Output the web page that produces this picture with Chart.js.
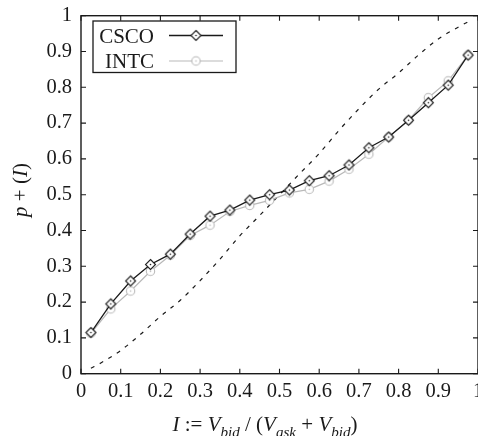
<!DOCTYPE html>
<html>
<head>
<meta charset="utf-8">
<script src="https://cdn.jsdelivr.net/npm/chart.js@4/dist/chart.umd.min.js"></script>
<style>
  html, body { margin: 0; padding: 0; background: #fff; overflow: hidden; }
  #wrap { position: relative; width: 478px; height: 436px; }
</style>
</head>
<body>
<div id="wrap"><canvas id="c" width="478" height="436"></canvas></div>
<script>
// Order-book imbalance bins (bin centres)
const imbalance = [0.025, 0.075, 0.125, 0.175, 0.225, 0.275, 0.325, 0.375, 0.425, 0.475,
                   0.525, 0.575, 0.625, 0.675, 0.725, 0.775, 0.825, 0.875, 0.925, 0.975];
// Probability of an upward move given imbalance
const csco = [0.115, 0.195, 0.259, 0.305, 0.334, 0.390, 0.440, 0.457, 0.485, 0.500,
              0.513, 0.539, 0.553, 0.583, 0.631, 0.661, 0.708, 0.757, 0.806, 0.890];
const intc = [0.113, 0.181, 0.231, 0.286, 0.331, 0.386, 0.415, 0.453, 0.470, 0.484,
              0.505, 0.515, 0.538, 0.571, 0.613, 0.661, 0.708, 0.771, 0.818, 0.890];
// Reference (model) curve
const modelX = [0.025, 0.05, 0.10, 0.15, 0.20, 0.25, 0.30, 0.35, 0.40, 0.45, 0.50,
                0.55, 0.60, 0.65, 0.70, 0.75, 0.80, 0.85, 0.90, 0.95, 0.975];
const modelY = [0.015, 0.030, 0.065, 0.110, 0.160, 0.205, 0.260, 0.320, 0.385, 0.442, 0.500,
                0.558, 0.615, 0.680, 0.740, 0.795, 0.840, 0.890, 0.935, 0.968, 0.983];
// Axis ticks
const xTicks = [0, 0.1, 0.2, 0.3, 0.4, 0.5, 0.6, 0.7, 0.8, 0.9, 1];
const xTickLabels = ['0', '0.1', '0.2', '0.3', '0.4', '0.5', '0.6', '0.7', '0.8', '0.9', '1'];
const yTicks = [0, 0.1, 0.2, 0.3, 0.4, 0.5, 0.6, 0.7, 0.8, 0.9, 1];
const yTickLabels = ['0', '0.1', '0.2', '0.3', '0.4', '0.5', '0.6', '0.7', '0.8', '0.9', '1'];
const seriesNames = ['CSCO', 'INTC'];

const SERIF = '"Liberation Serif", "Times New Roman", serif';
const INK = '#1a1a1a';
const GREY = '#b9b9b9';

function makeMarker(kind, stroke) {
  const s = 13, m = s / 2;
  const c = document.createElement('canvas');
  c.width = s; c.height = s;
  const g = c.getContext('2d');
  g.lineWidth = 1.1; g.strokeStyle = stroke; g.fillStyle = '#fff';
  g.beginPath();
  if (kind === 'diamond') {
    g.moveTo(m, m - 5); g.lineTo(m + 5, m); g.lineTo(m, m + 5); g.lineTo(m - 5, m); g.closePath();
  } else {
    g.arc(m, m, 4.2, 0, Math.PI * 2);
  }
  g.fill(); g.stroke();
  g.fillStyle = stroke;
  g.beginPath(); g.arc(m, m, 0.8, 0, Math.PI * 2); g.fill();
  return c;
}
const diamond = makeMarker('diamond', INK);
const ring = makeMarker('circle', GREY);

function richParts(ctx, parts, size) {
  let w = 0;
  const items = parts.map(p => {
    const fs = p.sub ? size * 0.72 : size;
    const font = (p.it ? 'italic ' : '') + fs + 'px ' + SERIF;
    ctx.font = font;
    const mw = ctx.measureText(p.t).width;
    w += mw;
    return { t: p.t, sub: p.sub, font, mw };
  });
  return { items, w };
}
function drawRich(ctx, parts, size, cx, baseline) {
  const { items, w } = richParts(ctx, parts, size);
  let x = cx - w / 2;
  ctx.textAlign = 'left';
  ctx.textBaseline = 'alphabetic';
  items.forEach(it => {
    ctx.font = it.font;
    ctx.fillText(it.t, x, baseline + (it.sub ? size * 0.28 : 0));
    x += it.mw;
  });
}

// Box frame with inward ticks on all four sides
const framePlugin = {
  id: 'frame',
  afterDraw(chart) {
    const { ctx, chartArea: a, scales: { x, y } } = chart;
    ctx.save();
    ctx.strokeStyle = INK;
    ctx.lineWidth = 1.4;
    ctx.strokeRect(a.left, a.top, a.right - a.left, a.bottom - a.top);
    ctx.lineWidth = 1.1;
    ctx.beginPath();
    x.ticks.forEach(t => {
      const p = x.getPixelForValue(t.value);
      ctx.moveTo(p, a.bottom); ctx.lineTo(p, a.bottom - 5);
      ctx.moveTo(p, a.top); ctx.lineTo(p, a.top + 5);
    });
    y.ticks.forEach(t => {
      const p = y.getPixelForValue(t.value);
      ctx.moveTo(a.left, p); ctx.lineTo(a.left + 5, p);
      ctx.moveTo(a.right, p); ctx.lineTo(a.right - 5, p);
    });
    ctx.stroke();
    ctx.restore();
  }
};

// Boxed legend: right-aligned names, line sample with marker to the right
const legendPlugin = {
  id: 'boxLegend',
  afterDraw(chart) {
    const ctx = chart.ctx;
    const box = { l: 93, t: 21, r: 236, b: 72.5 };
    ctx.save();
    ctx.fillStyle = '#fff';
    ctx.fillRect(box.l, box.t, box.r - box.l, box.b - box.t);
    ctx.strokeStyle = INK; ctx.lineWidth = 1.3;
    ctx.strokeRect(box.l, box.t, box.r - box.l, box.b - box.t);
    const rows = [35.5, 61];
    [0, 1].forEach(i => {
      const ds = chart.data.datasets[i];
      const yy = rows[i];
      ctx.fillStyle = INK;
      ctx.font = '21px ' + SERIF;
      ctx.textAlign = 'right';
      ctx.textBaseline = 'alphabetic';
      ctx.fillText(seriesNames[i], 154, yy + 7);
      ctx.strokeStyle = ds.borderColor; ctx.lineWidth = ds.borderWidth;
      ctx.beginPath(); ctx.moveTo(169, yy); ctx.lineTo(223, yy); ctx.stroke();
      const img = ds.pointStyle;
      ctx.drawImage(img, 196 - img.width / 2, yy - img.height / 2);
    });
    ctx.restore();
  }
};

// Axis titles with italic symbols and subscripts
const titlePlugin = {
  id: 'axisTitles',
  afterDraw(chart) {
    const ctx = chart.ctx;
    ctx.save();
    ctx.fillStyle = INK;
    drawRich(ctx, [
      { t: 'I', it: true }, { t: ' := ' }, { t: 'V', it: true }, { t: 'bid', it: true, sub: true },
      { t: ' / (' }, { t: 'V', it: true }, { t: 'ask', it: true, sub: true }, { t: ' + ' },
      { t: 'V', it: true }, { t: 'bid', it: true, sub: true }, { t: ')' }
    ], 21, 265, 431);
    ctx.translate(27, 190);
    ctx.rotate(-Math.PI / 2);
    drawRich(ctx, [{ t: 'p', it: true }, { t: ' + (' }, { t: 'I', it: true }, { t: ')' }], 21, 0, 0);
    ctx.restore();
  }
};

const tickFont = { family: SERIF, size: 20.5 };

new Chart(document.getElementById('c'), {
  type: 'line',
  data: {
    datasets: [
      {
        label: seriesNames[0],
        data: imbalance.map((v, i) => ({ x: v, y: csco[i] })),
        borderColor: INK, borderWidth: 1.3,
        pointStyle: diamond, pointRadius: 5, pointHoverRadius: 5,
        tension: 0
      },
      {
        label: seriesNames[1],
        data: imbalance.map((v, i) => ({ x: v, y: intc[i] })),
        borderColor: GREY, borderWidth: 1.2,
        pointStyle: ring, pointRadius: 5, pointHoverRadius: 5,
        tension: 0
      },
      {
        label: 'model',
        data: modelX.map((v, i) => ({ x: v, y: modelY[i] })),
        borderColor: INK, borderWidth: 1.2, borderDash: [4, 6],
        pointRadius: 0, cubicInterpolationMode: 'monotone'
      }
    ]
  },
  options: {
    responsive: false,
    animation: false,
    events: [],
    layout: { autoPadding: false, padding: { top: 15.7, right: 0, left: 0, bottom: 0 } },
    plugins: { legend: { display: false }, tooltip: { enabled: false } },
    scales: {
      x: {
        type: 'linear', min: 0, max: 1,
        afterBuildTicks: s => { s.ticks = xTicks.map(v => ({ value: v })); },
        afterFit: s => { s.height = 62.3; s.paddingLeft = 0; s.paddingRight = 0; },
        grid: { display: false, drawTicks: false },
        border: { display: false },
        ticks: {
          font: tickFont, color: INK, padding: 6, maxRotation: 0, autoSkip: false,
          callback: (v, i) => xTickLabels[i]
        }
      },
      y: {
        type: 'linear', min: 0, max: 1,
        afterBuildTicks: s => { s.ticks = yTicks.map(v => ({ value: v })); },
        afterFit: s => { s.width = 81; s.paddingTop = 0; s.paddingBottom = 0; },
        grid: { display: false, drawTicks: false },
        border: { display: false },
        ticks: {
          font: tickFont, color: INK, padding: 9, autoSkip: false,
          callback: (v, i) => yTickLabels[i]
        }
      }
    }
  },
  plugins: [framePlugin, legendPlugin, titlePlugin]
});
</script>
</body>
</html>
